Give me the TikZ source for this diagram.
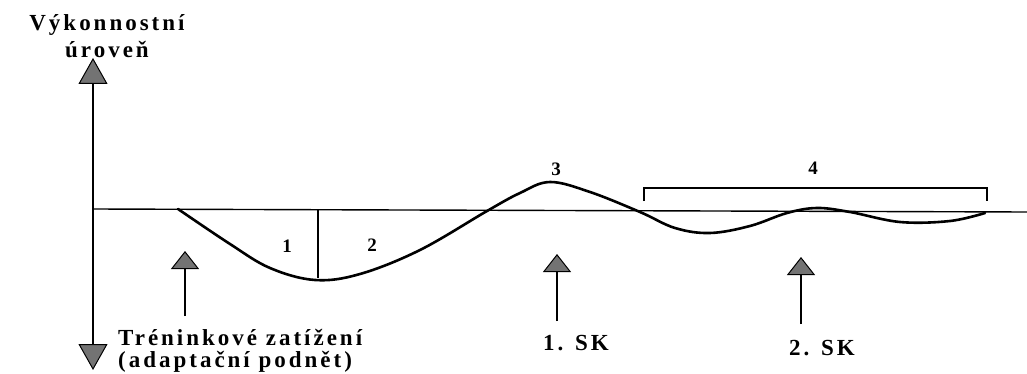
\documentclass[tikz,border=0pt]{standalone}
\usepackage{fontspec}
\setmainfont{Liberation Serif}
\newfontfamily\labfont{Liberation Serif}[LetterSpace=13]
\usetikzlibrary{arrows.meta}
\definecolor{tipgray}{gray}{0.45}
\tikzset{
  lab/.style={font=\labfont\bfseries\fontsize{23}{22}\selectfont, inner sep=0pt},
  num/.style={font=\bfseries\fontsize{19}{20}\selectfont, inner sep=0pt},
  curve/.style={line width=2.6pt, line join=round, line cap=round},
  upar/.style={line width=1.8pt, -{Triangle[width=28pt,length=18pt,fill=tipgray,line width=1pt]}},
  axis/.style={line width=1.8pt, {Triangle[width=29pt,length=26pt,fill=tipgray,line width=1pt]}-{Triangle[width=29pt,length=26pt,fill=tipgray,line width=1pt]}},
}
\begin{document}
\begin{tikzpicture}[x=1pt,y=-1pt]
\useasboundingbox (0,0) rectangle (1027,374);
% axis
\coordinate (axtop) at (93,58);
\coordinate (axbot) at (93,370);
\draw[axis] (axbot) -- (axtop);
\node[lab, align=center, anchor=north] (yl) at (107,14) {Výkonnostní\\[5pt]úroveň};
% baseline
\coordinate (b0) at (93,209);
\coordinate (b1) at (1027,212);
\draw[line width=1.4pt] (b0) -- (b1);
% curve
\draw[curve] plot[smooth, tension=0.6] coordinates {
 (178,209) (230,244) (270,268) (315,280) (360,274) (420,250) (487,211)
 (520,193) (550,182) (590,192) (640,212) (675,228) (710,233) (750,226)
 (787,213) (817,208) (850,212) (900,222) (950,221) (985,213)};
% divider
\coordinate (d0) at (318,209);
\coordinate (d1) at (318,278);
\draw[line width=1.6pt] (d0) -- (d1);
\node[num] (n1) at (287,246) {1};
\node[num] (n2) at (372,245) {2};
\node[num] (n3) at (556,169) {3};
\node[num] (n4) at (813,168) {4};
% bracket
\coordinate (brl) at (644,201);
\coordinate (brr) at (987,201);
\draw[line width=1.4pt] (brl) -- (644,188) -- (987,188) -- (brr);
% stimulus arrows
\coordinate (s0) at (185,316);
\coordinate (s0t) at (185,251);
\draw[upar] (s0) -- (s0t);
\coordinate (s1) at (557,321);
\coordinate (s1t) at (557,254);
\draw[upar] (s1) -- (s1t);
\coordinate (s2) at (801,324);
\coordinate (s2t) at (801,257);
\draw[upar] (s2) -- (s2t);
% labels
\node[lab, align=left, anchor=north west] (tz) at (118,329) {Tréninkové zatížení\\(adaptační podnět)};
\node[lab] (sk1) at (576,343) {1. SK};
\node[lab] (sk2) at (822,348) {2. SK};
\end{tikzpicture}
\end{document}
